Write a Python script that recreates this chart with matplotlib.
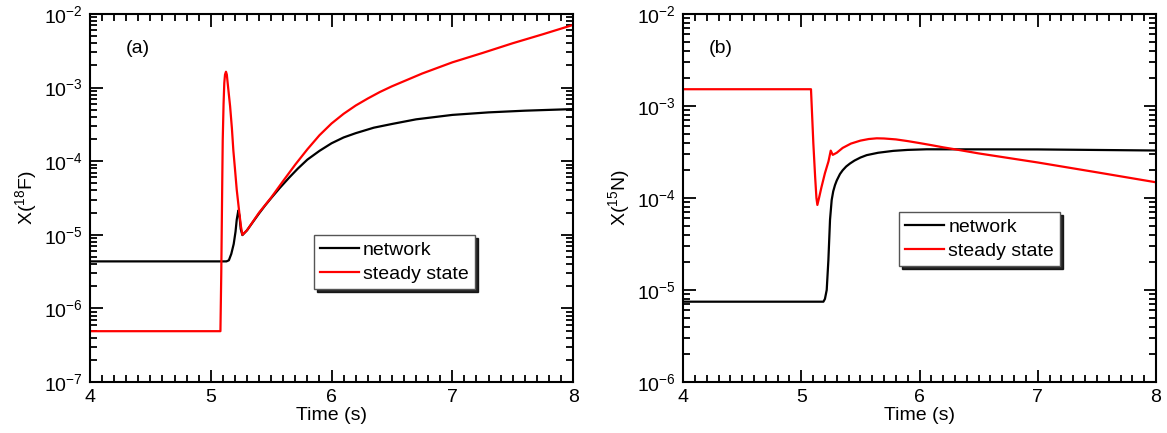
import matplotlib
matplotlib.use("Agg")
import matplotlib.pyplot as plt
from matplotlib.ticker import MultipleLocator, LogLocator, NullFormatter

plt.rcParams['font.family'] = ['Liberation Sans', 'DejaVu Sans']
plt.rcParams['mathtext.default'] = 'regular'

# panel (a): X(18F)
t_f18_net = [4.0, 5.13, 5.15, 5.17, 5.19, 5.205, 5.215, 5.228, 5.238, 5.248, 5.262, 5.3, 5.35,
             5.4, 5.45, 5.5, 5.57, 5.65, 5.72, 5.8, 5.9, 6.0, 6.1, 6.2, 6.35, 6.5, 6.7, 7.0,
             7.3, 7.6, 8.0]
x_f18_net = [4.35e-6, 4.35e-6, 4.5e-6, 5.5e-6, 7.5e-6, 1.1e-5, 1.6e-5, 2.13e-5, 1.8e-5, 1.2e-5,
             9.9e-6, 1.15e-5, 1.5e-5, 1.95e-5, 2.5e-5, 3.15e-5, 4.3e-5, 6.0e-5, 7.9e-5, 1.05e-4,
             1.38e-4, 1.75e-4, 2.1e-4, 2.4e-4, 2.85e-4, 3.2e-4, 3.7e-4, 4.25e-4, 4.6e-4,
             4.85e-4, 5.1e-4]

t_f18_ss = [4.0, 5.08, 5.087, 5.095, 5.099, 5.106, 5.112, 5.118, 5.126, 5.133, 5.14, 5.15,
            5.16, 5.175, 5.187, 5.2, 5.215, 5.237, 5.25, 5.262, 5.3, 5.4, 5.5, 5.6, 5.7, 5.8,
            5.9, 6.0, 6.1, 6.2, 6.3, 6.4, 6.5, 6.75, 7.0, 7.25, 7.5, 7.75, 8.0]
x_f18_ss = [4.9e-7, 4.9e-7, 3e-6, 5e-5, 1.9e-4, 6e-4, 1.15e-3, 1.5e-3, 1.64e-3, 1.5e-3,
            1.15e-3, 8e-4, 5.6e-4, 2.8e-4, 1.4e-4, 8e-5, 4.1e-5, 1.95e-5, 1.3e-5, 1.0e-5,
            1.15e-5, 2.0e-5, 3.2e-5, 5.4e-5, 9e-5, 1.45e-4, 2.25e-4, 3.25e-4, 4.4e-4, 5.7e-4,
            7.1e-4, 8.7e-4, 1.04e-3, 1.55e-3, 2.2e-3, 2.95e-3, 4.0e-3, 5.3e-3, 7.1e-3]

# panel (b): X(15N)
t_n15_net = [4.0, 5.187, 5.2, 5.215, 5.229, 5.243, 5.257, 5.27, 5.285, 5.3, 5.327, 5.35,
             5.38, 5.412, 5.45, 5.5, 5.553, 5.65, 5.778, 5.9, 6.06, 7.0, 8.0]
x_n15_net = [7.46e-6, 7.46e-6, 8e-6, 1.0e-5, 2.1e-5, 5.8e-5, 9.5e-5, 1.18e-4, 1.38e-4,
             1.55e-4, 1.82e-4, 2.0e-4, 2.2e-4, 2.37e-4, 2.55e-4, 2.75e-4, 2.92e-4, 3.1e-4,
             3.25e-4, 3.33e-4, 3.38e-4, 3.37e-4, 3.28e-4]

t_n15_ss = [4.0, 5.082, 5.102, 5.117, 5.128, 5.136, 5.15, 5.17, 5.2, 5.23, 5.249, 5.266, 5.3,
            5.35, 5.42, 5.5, 5.57, 5.638, 5.7, 5.8, 5.9, 6.0, 6.1, 6.2, 6.3, 6.5, 7.0, 7.5, 8.0]
x_n15_ss = [1.52e-3, 1.52e-3, 3.9e-4, 1.7e-4, 1.0e-4, 8.4e-5, 1.0e-4, 1.3e-4, 1.86e-4,
            2.5e-4, 3.27e-4, 2.94e-4, 3.1e-4, 3.5e-4, 3.9e-4, 4.2e-4, 4.37e-4, 4.45e-4,
            4.43e-4, 4.33e-4, 4.15e-4, 3.95e-4, 3.75e-4, 3.55e-4, 3.38e-4, 3.05e-4, 2.43e-4,
            1.9e-4, 1.48e-4]

fig = plt.figure(figsize=(11.67, 4.33), dpi=100)
ax1 = fig.add_axes([0.0771, 0.1178, 0.414, 0.850])
ax2 = fig.add_axes([0.5853, 0.1178, 0.4053, 0.850])


def style_axis(ax, ylo, yhi, ylabel, tag, tagx, leg_anchor):
    ax.set_yscale('log')
    ax.set_xlim(4, 8)
    ax.set_ylim(ylo, yhi)
    ax.xaxis.set_major_locator(MultipleLocator(1))
    ax.xaxis.set_minor_locator(MultipleLocator(0.1))
    ax.yaxis.set_major_locator(LogLocator(base=10, numticks=20))
    ax.yaxis.set_minor_locator(LogLocator(base=10, subs=range(2, 10), numticks=20))
    ax.yaxis.set_minor_formatter(NullFormatter())
    ax.tick_params(which='both', direction='in', top=True, right=True, labelsize=14, width=1.3)
    ax.tick_params(which='major', length=9, pad=5)
    ax.tick_params(which='minor', length=5)
    for s in ax.spines.values():
        s.set_linewidth(1.5)
    ax.set_xlabel('Time (s)', fontsize=14, labelpad=1)
    ax.set_ylabel(ylabel, fontsize=14, labelpad=4)
    ax.text(tagx, 0.907, tag, transform=ax.transAxes, fontsize=14, va='center')
    leg = ax.legend(loc='upper left', bbox_to_anchor=leg_anchor, fontsize=14,
                    fancybox=False, shadow={'color': 'black', 'alpha': 0.85},
                    framealpha=1, edgecolor='#555555',
                    handlelength=2.0, handletextpad=0.2, borderpad=0.32,
                    labelspacing=0.35, borderaxespad=0)
    leg.get_frame().set_linewidth(1.0)


ax1.plot(t_f18_net, x_f18_net, color='black', lw=1.6, label='network')
ax1.plot(t_f18_ss, x_f18_ss, color='#ff0000', lw=1.6, label='steady state')
style_axis(ax1, 1e-7, 1e-2, 'X($^{18}$F)', '(a)', 0.075, (0.464, 0.40))

ax2.plot(t_n15_net, x_n15_net, color='black', lw=1.6, label='network')
ax2.plot(t_n15_ss, x_n15_ss, color='#ff0000', lw=1.6, label='steady state')
style_axis(ax2, 1e-6, 1e-2, 'X($^{15}$N)', '(b)', 0.055, (0.457, 0.462))

fig.savefig('out.png', dpi=100)
